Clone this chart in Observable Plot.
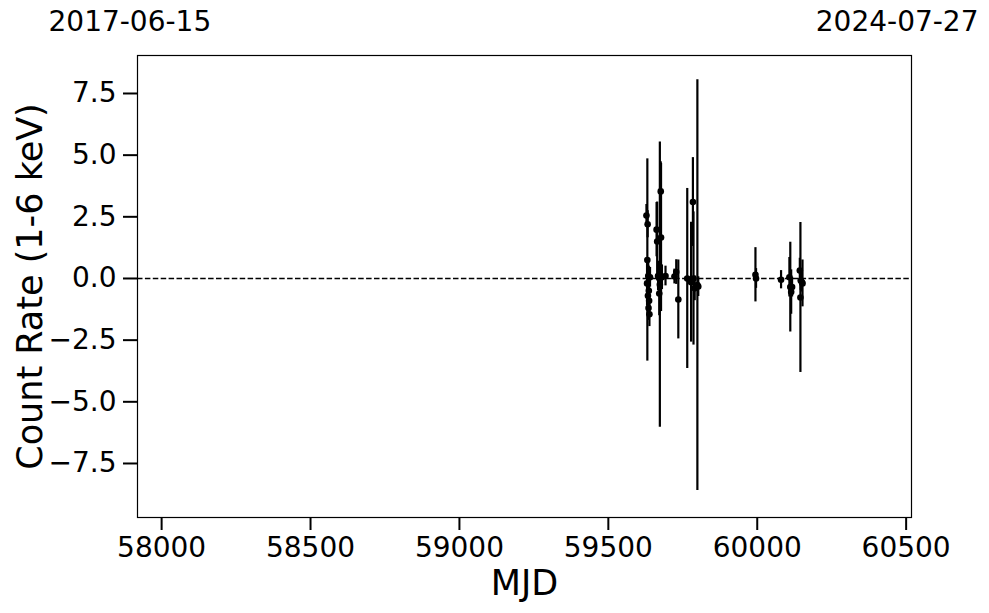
<!DOCTYPE html>
<html>
<head>
<meta charset="utf-8">
<script src="https://cdn.jsdelivr.net/npm/d3@7"></script>
<script src="https://cdn.jsdelivr.net/npm/@observablehq/plot@0.6"></script>
<style>
  html, body { margin: 0; padding: 0; background: #fff; }
  #chart { width: 989px; height: 613px; }
  svg { font-family: "DejaVu Sans", sans-serif; }
  g[aria-label="x-axis tick"] path, g[aria-label="y-axis tick"] path { stroke-width: 2px; }
</style>
</head>
<body>
<div id="chart"></div>
<script>
const mjd  = [59628, 59632, 59631, 59634, 59630, 59636, 59633, 59637, 59635, 59638, 59640,
              59662, 59664, 59667, 59673, 59676, 59677, 59671, 59680, 59692,
              59722, 59728, 59735, 59765, 59778, 59784, 59786, 59790, 59799, 59802,
              59994, 59996, 60080, 60111, 60108, 60114, 60117, 60145, 60143, 60146, 60152, 60150];
const rate = [2.55, 2.2, 0.75, 0.1, -0.2, -0.5, -0.7, -0.9, -1.2, -1.45, 0.05,
              1.98, 1.5, 0.1, -0.25, 3.53, 1.66, -0.61, 0.05, 0.1,
              0.08, 0.26, -0.85, 0.0, -0.15, 3.1, 0.0, -0.4, -0.27, -0.33,
              0.15, 0.0, -0.05, -0.35, 0.05, -0.55, -0.35, -0.77, 0.32, -0.08, -0.2, -0.15];
const err  = [0.45, 0.55, 4.1, 0.7, 0.9, 1.0, 0.8, 0.6, 0.5, 0.5, 0.4,
              1.1, 1.6, 0.6, 5.78, 1.2, 3.0, 0.9, 0.5, 0.4,
              0.3, 0.5, 1.6, 3.65, 2.43, 1.8, 2.7, 0.5, 8.33, 0.4,
              1.1, 0.4, 0.37, 1.82, 0.8, 0.9, 0.4, 3.04, 0.5, 0.4, 0.95, 0.4];

const xTicks = [58000, 58500, 59000, 59500, 60000, 60500];
const yTicks = [-7.5, -5.0, -2.5, 0.0, 2.5, 5.0, 7.5];
const xDomain = [57919, 60518];
const yDomain = [-9.69, 9.04];
const dateLabels = ["2017-06-15", "2024-07-27"];
const xLabel = "MJD";
const yLabel = "Count Rate (1-6 keV)";

const data = mjd.map((m, i) => ({mjd: m, rate: rate[i], err: err[i]}));
const fmt = d => d.toFixed(1).replace("-", "\u2212");

const chart = Plot.plot({
  width: 989,
  height: 613,
  marginTop: 55,
  marginBottom: 96,
  marginLeft: 137,
  marginRight: 78,
  style: {fontFamily: "DejaVu Sans, sans-serif", background: "#fff", color: "#000"},
  x: {domain: xDomain},
  y: {domain: yDomain},
  marks: [
    Plot.ruleY([0], {stroke: "#000", strokeWidth: 1.5, strokeDasharray: "5.5,2.4"}),
    Plot.ruleX(data, {x: "mjd", y1: d => d.rate - d.err, y2: d => d.rate + d.err, stroke: "#000", strokeWidth: 2.2}),
    Plot.dot(data, {x: "mjd", y: "rate", r: 3.3, fill: "#000", stroke: "none"}),
    Plot.frame({stroke: "#000", strokeWidth: 1.2}),
    Plot.axisX({ticks: xTicks, tickSize: 13, tickPadding: 7, fontSize: 28, label: null, tickFormat: d => String(d)}),
    Plot.axisY({ticks: yTicks, tickSize: 14, tickPadding: 7, fontSize: 28, label: null, tickFormat: fmt}),
    Plot.text([xLabel], {frameAnchor: "bottom", dy: 66, lineAnchor: "middle", fontSize: 35, fill: "#000"}),
    Plot.text([yLabel], {frameAnchor: "left", dx: -107, rotate: -90, textAnchor: "middle", lineAnchor: "middle", fontSize: 35, fill: "#000"}),
    Plot.text([dateLabels[0]], {frameAnchor: "top-left", textAnchor: "start", dx: -89, dy: -33, lineAnchor: "middle", fontSize: 28, fill: "#000"}),
    Plot.text([dateLabels[1]], {frameAnchor: "top-right", textAnchor: "end", dx: 67, dy: -33, lineAnchor: "middle", fontSize: 28, fill: "#000"})
  ]
});
document.getElementById("chart").appendChild(chart);
</script>
</body>
</html>
